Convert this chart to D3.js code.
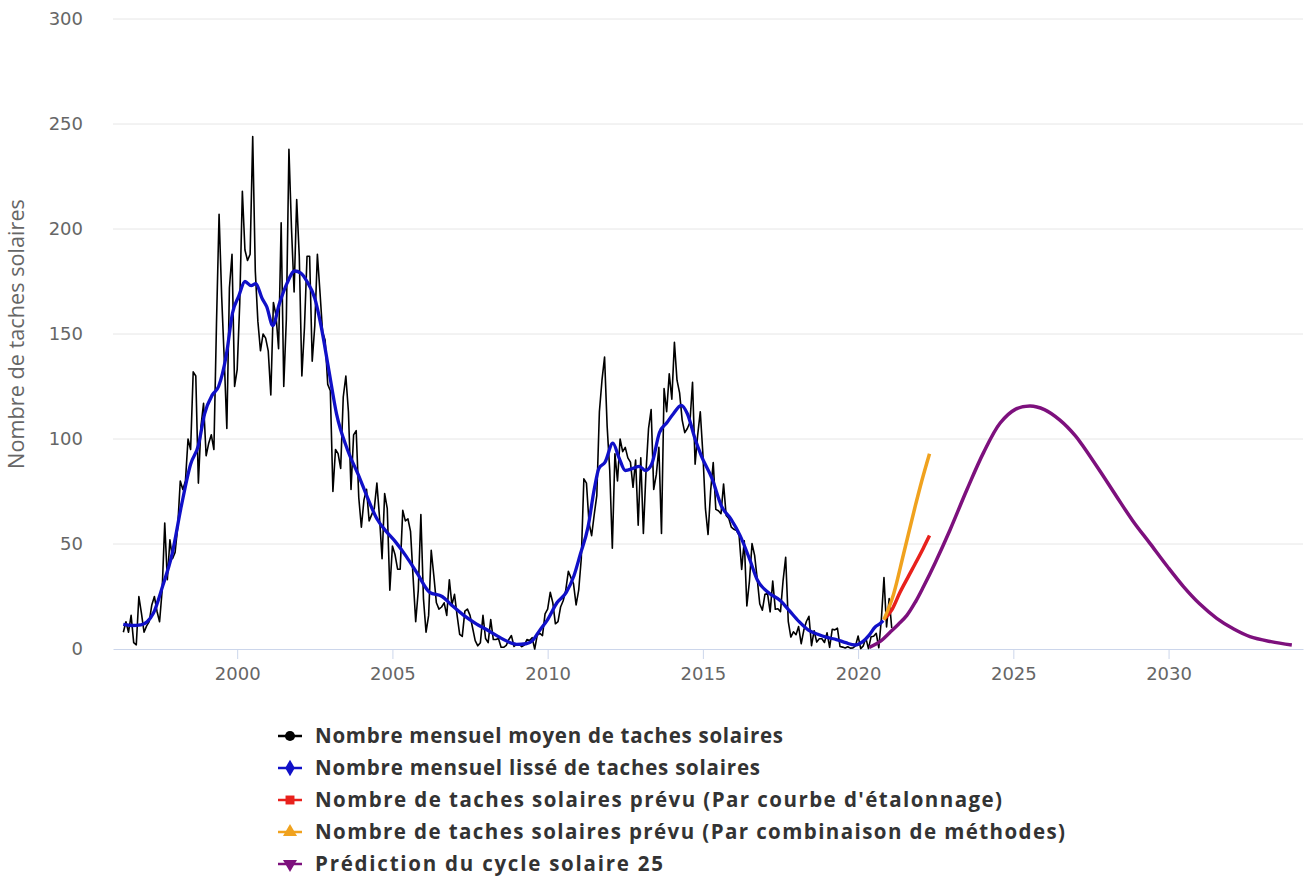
<!DOCTYPE html>
<html>
<head>
<meta charset="utf-8">
<script src="https://cdn.jsdelivr.net/npm/d3@7"></script>
<style>
  body { margin: 0; background: #fff; }
  svg { display: block; }
</style>
</head>
<body>
<div id="chart"></div>
<script>
// Monthly mean sunspot numbers, starting May 1996 (one value per month).
var monthlyStart = 1996 + 4 / 12;
var monthlyMean = [
  8, 13, 8, 16, 3, 2, 25, 17,                                   // 1996 (May-Dec)
  8, 11, 13, 21, 25, 18, 13, 28, 60, 33, 52, 43,                // 1997
  46, 58, 80, 76, 80, 100, 95, 132, 130, 79, 106, 117,          // 1998
  92, 98, 102, 95, 155, 207, 168, 138, 105, 172, 188, 125,      // 1999
  133, 165, 218, 190, 185, 188, 244, 180, 156, 142, 150, 148,   // 2000
  142, 121, 165, 159, 143, 203, 125, 157, 238, 200, 170, 214,   // 2001
  187, 130, 153, 187, 187, 137, 154, 188, 170, 151, 147, 126,   // 2002
  123, 75, 95, 93, 86, 120, 130, 113, 76, 102, 104, 72,         // 2003
  58, 71, 76, 61, 64, 67, 79, 63, 43, 74, 67, 28,               // 2004
  49, 45, 38, 38, 66, 61, 62, 56, 34, 13, 28, 64,               // 2005
  24, 8, 16, 47, 35, 22, 19, 20, 22, 16, 33, 21,                // 2006
  26, 16, 7, 6, 18, 19, 16, 10, 4, 1.5, 3, 16,                  // 2007
  5, 3, 14, 4.5, 4.5, 5, 0.8, 0.8, 1.7, 4.5, 6.4, 1.2,          // 2008
  2.3, 2.2, 1.1, 1.9, 4.5, 4, 5.4, 0, 6.7, 7.4, 6.4, 16.7,      // 2009
  19, 27, 22, 12, 13, 20, 23, 28, 37, 34, 31, 21,               // 2010
  28, 43, 81, 79, 60, 54, 64, 73, 113, 128, 139, 106,           // 2011
  85, 48, 93, 80, 100, 94, 96, 91, 89, 77, 90, 59,              // 2012
  91, 55, 84, 105, 114, 76, 83, 96, 55, 124, 113, 131,          // 2013
  119, 146, 128, 122, 109, 103, 105, 108, 127, 88, 102, 113,    // 2014
  93, 66.7, 54.5, 75.3, 88.8, 66.5, 65.8, 64.4, 78.6, 63.6, 62.2, 58,  // 2015
  57, 56.4, 54.1, 37.9, 51.5, 20.5, 32.4, 50.2, 44.6, 33.4, 21.4, 18.5, // 2016
  26.1, 26.4, 17.7, 32.3, 18.9, 19.2, 17.8, 32.6, 43.7, 13.2, 5.7, 8.2, // 2017
  6.8, 10.7, 2.5, 8.9, 13.1, 15.6, 1.6, 8.7, 3.3, 4.9, 4.9, 3.1,       // 2018
  7.7, 0.8, 9.4, 9.1, 9.9, 1.2, 0.9, 0.5, 1.1, 0.4, 0.5, 1.5,          // 2019
  6.2, 0.2, 1.5, 5.2, 0.2, 5.8, 6.1, 7.5, 0.6, 14.4, 34, 10.5,         // 2020
  24, 10                                                              // 2021
];

// Smoothed monthly sunspot number: [year, value].
var smoothed = [
  [1996.33, 11.7], [1996.6, 11.2], [1996.9, 11.5], [1997.1, 13], [1997.3, 17],
  [1997.6, 30], [1997.9, 45], [1998.2, 68], [1998.5, 88], [1998.75, 97],
  [1998.95, 112], [1999.2, 121], [1999.4, 125], [1999.65, 140], [1999.85, 160],
  [2000.05, 168], [2000.25, 175], [2000.45, 173], [2000.6, 174], [2000.8, 167],
  [2000.95, 163], [2001.15, 154], [2001.35, 164], [2001.6, 174], [2001.85, 180],
  [2002.05, 179], [2002.25, 175], [2002.5, 167], [2002.7, 154], [2002.95, 133],
  [2003.2, 112], [2003.55, 95], [2003.9, 83], [2004.2, 72], [2004.5, 62],
  [2004.8, 56], [2005.1, 51], [2005.45, 44], [2005.8, 36], [2006.2, 27],
  [2006.6, 25], [2006.9, 21], [2007.3, 16], [2007.7, 12], [2008.0, 9.5],
  [2008.4, 6], [2008.8, 3], [2009.0, 2.2], [2009.3, 2.5], [2009.5, 3.8],
  [2009.75, 9], [2010.0, 14], [2010.3, 22], [2010.6, 27], [2010.85, 35],
  [2011.05, 45], [2011.3, 58], [2011.5, 76], [2011.65, 86], [2011.85, 89],
  [2012.1, 98], [2012.3, 91], [2012.5, 85], [2012.75, 86], [2012.95, 87],
  [2013.15, 85], [2013.35, 88], [2013.6, 103], [2013.85, 108], [2014.05, 112],
  [2014.3, 116], [2014.5, 112], [2014.75, 100], [2014.95, 92], [2015.3, 81],
  [2015.6, 68], [2015.9, 62], [2016.2, 54], [2016.5, 43], [2016.75, 33],
  [2017.1, 27], [2017.5, 23], [2017.8, 18], [2018.1, 13], [2018.4, 9],
  [2018.7, 7], [2019.0, 5.5], [2019.3, 4.5], [2019.6, 3], [2019.9, 1.9],
  [2020.15, 3.5], [2020.35, 6.5], [2020.55, 10.5], [2020.7, 12], [2020.81, 13.5]
];

// Predictions.
var predCalibration = [[2020.83, 14], [2021.1, 19], [2021.35, 27], [2021.6, 34], [2021.89, 42], [2022.1, 48], [2022.3, 54]];
var predCombined = [[2020.83, 14], [2021.14, 26], [2021.46, 45], [2021.84, 68], [2022.05, 80], [2022.3, 93]];
var cycle25 = [
  [2020.36, 0.8], [2020.7, 3.5], [2021.03, 8], [2021.3, 11.8], [2021.57, 16],
  [2021.85, 22.5], [2022.1, 29.5], [2022.48, 41], [2022.96, 56.7], [2023.5, 75.7],
  [2024.04, 93.5], [2024.57, 107.5], [2025.05, 114], [2025.54, 115.7], [2026.0, 114],
  [2026.5, 109], [2027.0, 101.5], [2027.26, 96.3], [2027.8, 84.5], [2028.33, 72.5],
  [2028.85, 61], [2029.4, 50.3], [2029.95, 39.5], [2030.48, 29.7], [2031.0, 21.5],
  [2031.55, 14.6], [2032.1, 9.5], [2032.62, 5.9], [2033.3, 3.5], [2033.97, 1.9]
];

var yTicks = [0, 50, 100, 150, 200, 250, 300];
var xTicks = [2000, 2005, 2010, 2015, 2020, 2025, 2030];

var legendLabels = [
  "Nombre mensuel moyen de taches solaires",
  "Nombre mensuel lissé de taches solaires",
  "Nombre de taches solaires prévu (Par courbe d'étalonnage)",
  "Nombre de taches solaires prévu (Par combinaison de méthodes)",
  "Prédiction du cycle solaire 25"
];
var legendColors = ["#000000", "#1010c8", "#e8211c", "#f0a21e", "#7d107d"];
var legendSymbols = [d3.symbolCircle, d3.symbolDiamond, d3.symbolSquare, d3.symbolTriangle, d3.symbolTriangle];

// Chart size and plot area.
var W = 1308, H = 880;
var plot = {left: 113, right: 1303, top: 19, bottom: 649};
// Rendered widths of the legend labels in the original.
var legendTextWidths = [468, 445, 687, 750, 348];

var svg = d3.select("#chart").append("svg")
    .attr("width", W)
    .attr("height", H);

svg.append("rect").attr("width", W).attr("height", H).attr("fill", "#fff");

var x = d3.scaleLinear()
    .domain([1996.0, 2034.33])
    .range([plot.left, plot.right]);

var y = d3.scaleLinear()
    .domain([0, 300])
    .range([plot.bottom, plot.top]);

// Horizontal grid lines.
svg.append("g")
    .selectAll("line")
    .data(yTicks.filter(function(d){ return d > 0; }))
    .enter().append("line")
        .attr("x1", plot.left)
        .attr("x2", plot.right)
        .attr("y1", function(d){ return y(d); })
        .attr("y2", function(d){ return y(d); })
        .attr("stroke", "#e6e6e6")
        .attr("stroke-width", 1);

// Y axis labels (no axis line).
var yAxis = svg.append("g")
    .attr("transform", "translate(" + plot.left + ",0)")
    .call(d3.axisLeft(y).tickValues(yTicks).tickSize(0).tickPadding(30));
yAxis.select(".domain").remove();
yAxis.selectAll("text")
    .attr("fill", "#666")
    .style("font-family", "'DejaVu Sans', sans-serif")
    .style("font-size", "18px");

// X axis.
var xAxis = svg.append("g")
    .attr("transform", "translate(0," + plot.bottom + ")")
    .call(d3.axisBottom(x).tickValues(xTicks).tickFormat(d3.format("d")).tickSize(10).tickSizeOuter(0).tickPadding(8));
xAxis.select(".domain").attr("stroke", "#ccd6eb");
xAxis.selectAll(".tick line").attr("stroke", "#ccd6eb");
xAxis.selectAll("text")
    .attr("fill", "#666")
    .style("font-family", "'DejaVu Sans', sans-serif")
    .style("font-size", "18px");

// Y axis title, sized to span the same length as in the original.
var yTitle = svg.append("text")
    .attr("transform", "translate(24," + ((plot.top + plot.bottom) / 2) + ") rotate(-90)")
    .attr("text-anchor", "middle")
    .attr("fill", "#666")
    .style("font-family", "'Open Sans', sans-serif")
    .style("font-size", "20px")
    .text("Nombre de taches solaires");
var titleLen = yTitle.node().getComputedTextLength();
yTitle.style("font-size", (20 * 270 / titleLen) + "px");

var line = d3.line()
    .x(function(d){ return x(d[0]); })
    .y(function(d){ return y(d[1]); });

var monthlyPoints = monthlyMean.map(function(v, i){ return [monthlyStart + i / 12, v]; });

svg.append("path")
    .datum(monthlyPoints)
    .attr("fill", "none")
    .attr("stroke", legendColors[0])
    .attr("stroke-width", 1.6)
    .attr("stroke-linejoin", "round")
    .attr("d", line);

svg.append("path")
    .datum(smoothed)
    .attr("fill", "none")
    .attr("stroke", legendColors[1])
    .attr("stroke-width", 3.3)
    .attr("stroke-linejoin", "round")
    .attr("d", line.curve(d3.curveMonotoneX));

svg.append("path")
    .datum(cycle25)
    .attr("fill", "none")
    .attr("stroke", legendColors[4])
    .attr("stroke-width", 3.5)
    .attr("d", line.curve(d3.curveCatmullRom.alpha(0.5)));

svg.append("path")
    .datum(predCalibration)
    .attr("fill", "none")
    .attr("stroke", legendColors[2])
    .attr("stroke-width", 3.5)
    .attr("d", line.curve(d3.curveMonotoneX));

svg.append("path")
    .datum(predCombined)
    .attr("fill", "none")
    .attr("stroke", legendColors[3])
    .attr("stroke-width", 3.5)
    .attr("d", line.curve(d3.curveMonotoneX));

// Legend.
var legend = svg.append("g")
    .attr("transform", "translate(278, 736)");

legendLabels.forEach(function(label, i){
    var row = legend.append("g")
        .attr("transform", "translate(0," + (i * 32) + ")");

    row.append("line")
        .attr("x1", 0).attr("x2", 24)
        .attr("y1", 0).attr("y2", 0)
        .attr("stroke", legendColors[i])
        .attr("stroke-width", 2.5);

    row.append("path")
        .attr("transform", "translate(12,0)" + (i == 4 ? " rotate(180)" : ""))
        .attr("d", d3.symbol().type(legendSymbols[i]).size(i == 3 || i == 4 ? 85 : 80)())
        .attr("fill", legendColors[i]);

    row.append("text")
        .attr("x", 37)
        .attr("y", 7)
        .attr("fill", "#333")
        .attr("textLength", legendTextWidths[i])
        .attr("lengthAdjust", "spacing")
        .style("font-family", "'Open Sans', sans-serif")
        .style("font-weight", "bold")
        .style("font-size", "20.5px")
        .text(label);
});
</script>
</body>
</html>
